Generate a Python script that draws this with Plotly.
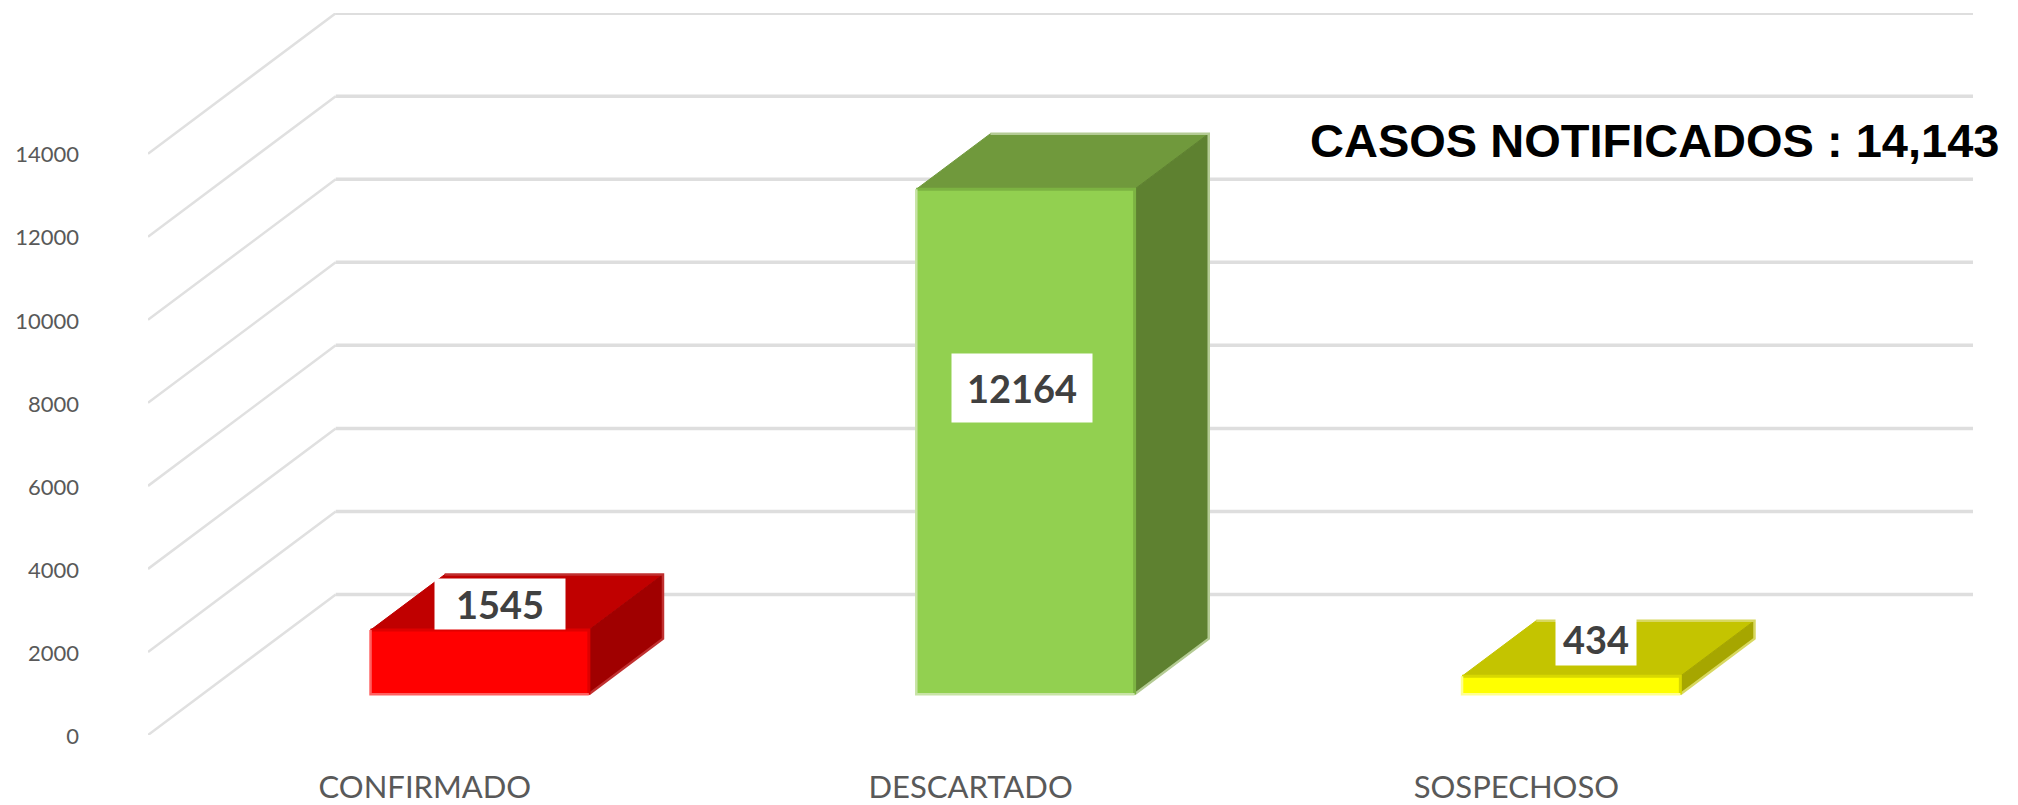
import plotly.graph_objects as go

categories = ["CONFIRMADO", "DESCARTADO", "SOSPECHOSO"]
values = [1545, 12164, 434]
y_ticks = [0, 2000, 4000, 6000, 8000, 10000, 12000, 14000]
front_colors = ["#ff0000", "#92d050", "#ffff00"]
top_colors = ["#c00000", "#70993c", "#c4c400"]
side_colors = ["#a00000", "#5e8130", "#a6a600"]
inner_colors = ["#e00000", "#7cb342", "#d8d800"]
edge_colors = ["#ff6060", "#c8e3a6", "#ffff90"]
outer_colors = ["#c03030", "#b4cb94", "#d8d860"]
title_text = "CASOS NOTIFICADOS : 14,143"

# Oblique 3D projection, expressed in axis units
DX = 0.344      # category units from front plane to back wall
DY = 3385.0     # value units from front plane to back wall
D0, D1 = 0.29, 0.685
BAR_W = 0.40
X_NUDGE = 0.008


def proj(x, v, d):
    return x + d * DX, v + d * DY


def path(pts):
    xs, ys = [], []
    for x, v, d in pts:
        px, py = proj(x, v, d)
        xs.append(px)
        ys.append(py)
    return xs, ys


def poly(pts, color):
    xs, ys = path(pts + pts[:1])
    return go.Scatter(x=xs, y=ys, mode="lines", fill="toself", fillcolor=color,
                      line=dict(color=color, width=1), hoverinfo="skip", showlegend=False)


def stroke(pts, color, width):
    xs, ys = path(pts)
    return go.Scatter(x=xs, y=ys, mode="lines", line=dict(color=color, width=width),
                      hoverinfo="skip", showlegend=False)


fig = go.Figure()

# gridlines: diagonal side wall and horizontal back wall
diag_x, diag_y, back_x, back_y = [], [], [], []
x_left, x_right = -0.5, 2.5
for t in y_ticks:
    a = proj(x_left, t, 0)
    b = proj(x_left, t, 1)
    c = proj(x_right, t, 1)
    diag_x += [a[0], b[0], None]
    diag_y += [a[1], b[1], None]
    back_x += [b[0], c[0], None]
    back_y += [b[1], c[1], None]
fig.add_trace(go.Scatter(x=diag_x, y=diag_y, mode="lines", line=dict(color="#e0e0e0", width=2.5),
                         hoverinfo="skip", showlegend=False))
fig.add_trace(go.Scatter(x=back_x, y=back_y, mode="lines", line=dict(color="#dedede", width=3.5),
                         hoverinfo="skip", showlegend=False))

label_shift = [(-17, -2), (-3, 54), (-12, 9)]
label_size = [(128, 48), (138, 66), (78, 50)]
for i, v in enumerate(values):
    l = i + X_NUDGE - BAR_W / 2
    r = i + X_NUDGE + BAR_W / 2
    fig.add_trace(poly([(l, v, D0), (l, v, D1), (r, v, D1), (r, v, D0)], top_colors[i]))
    fig.add_trace(poly([(r, 0, D0), (r, 0, D1), (r, v, D1), (r, v, D0)], side_colors[i]))
    fig.add_trace(poly([(l, 0, D0), (r, 0, D0), (r, v, D0), (l, v, D0)], front_colors[i]))
    # soft edges of the 3D block
    fig.add_trace(stroke([(l, v, D1), (r, v, D1), (r, 0, D1), (r, 0, D0)], outer_colors[i], 2.5))
    fig.add_trace(stroke([(l, v, D0), (r, v, D0), (r, 0, D0)], inner_colors[i], 3))
    fig.add_trace(stroke([(r, 0, D0), (l, 0, D0), (l, v, D0)], edge_colors[i], 2.5))

    if i == 1:
        ax, ay = proj(i + X_NUDGE, v / 2, D0)
    else:
        ax, ay = proj(i + X_NUDGE, v, (D0 + D1) / 2)
    fig.add_annotation(x=ax, y=ay, text=f"<b>{v}</b>", showarrow=False, xshift=label_shift[i][0],
                       yshift=label_shift[i][1], bgcolor="#ffffff", width=label_size[i][0],
                       height=label_size[i][1], borderpad=1,
                       font=dict(family="Lato", size=38, color="#404040"))

fig.add_annotation(xref="paper", yref="paper", x=0.6355, y=0.824, xanchor="left", yanchor="middle",
                   text=f"<b>{title_text}</b>", showarrow=False,
                   font=dict(family="Liberation Sans", size=47, color="#000000"))

fig.update_layout(
    width=2018, height=805, paper_bgcolor="#ffffff", plot_bgcolor="#ffffff",
    margin=dict(l=148, r=45, t=13, b=70), showlegend=False,
    xaxis=dict(range=[-0.5, 2.844], tickmode="array", tickvals=[0, 1, 2], ticktext=categories,
               showgrid=False, zeroline=False, showline=False, ticks="", automargin=False,
               ticklabelstandoff=31, ticklabelshift=4,
               tickfont=dict(family="Lato", size=31, color="#595959")),
    yaxis=dict(range=[0, 17390], tickmode="array", tickvals=y_ticks, ticktext=[str(t) for t in y_ticks],
               showgrid=False, zeroline=False, showline=False, ticks="", automargin=False,
               ticklabelstandoff=68, ticklabelshift=1,
               tickfont=dict(family="Lato", size=22, color="#595959")),
)

fig.write_html("out.html", config={"displayModeBar": False},
               post_script="document.body.style.margin='0';")
